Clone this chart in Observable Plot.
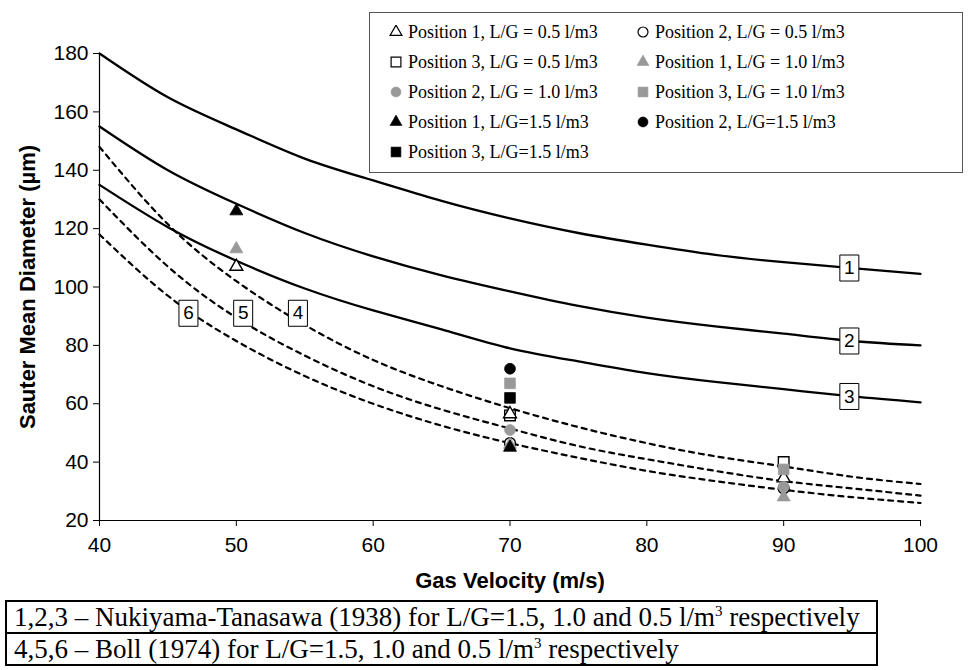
<!DOCTYPE html>
<html><head><meta charset="utf-8">
<script src="https://cdn.jsdelivr.net/npm/d3@7"></script>
<script src="https://cdn.jsdelivr.net/npm/@observablehq/plot@0.6"></script>
<style>
body{margin:0;background:#fff;}
#wrap{position:relative;width:968px;height:670px;overflow:hidden;}
#legend{position:absolute;left:369px;top:12px;width:594px;height:161px;border:1px solid #555;box-sizing:border-box;background:#fff;
 font-family:"Liberation Serif","Times New Roman",serif;font-size:18px;color:#000;}
.li{position:absolute;height:20px;line-height:20px;white-space:nowrap;display:flex;align-items:center;}
.li svg{margin-right:5px;}
#note{position:absolute;left:5px;top:600px;width:873px;border-collapse:collapse;
 font-family:"Liberation Serif","Times New Roman",serif;font-size:27px;color:#000;}
#note td{border:2px solid #000;padding:0 0 0 7px;height:30px;line-height:28px;white-space:nowrap;}
#note sup{font-size:15px;line-height:0;}
g[aria-label="x-axis tick label"] text, g[aria-label="y-axis tick label"] text{font-size:21px;}
g[aria-label="x-axis label"] text, g[aria-label="y-axis label"] text{font-weight:bold;font-size:22px;}
</style></head>
<body><div id="wrap"><div id="chart"></div><div id="legend"></div>
<table id="note">
<tr><td>1,2,3 – Nukiyama-Tanasawa (1938) for L/G=1.5, 1.0 and 0.5 l/m<sup>3</sup> respectively</td></tr>
<tr><td>4,5,6 – Boll (1974) for L/G=1.5, 1.0 and 0.5 l/m<sup>3</sup> respectively</td></tr>
</table></div>
<script>
// ---- data ----
const velocity = [40,45,50,55,60,65,70,75,80,85,90,95,100];
const nt15   = [180,165,154,144,136.5,129.5,123.5,118.5,114.5,111,108.5,106.5,104.5];
const nt10   = [155,140,128.5,118.5,110.5,104,98.5,93.5,89.5,86.5,84,81.5,80];
const nt05   = [135,120.5,109,99.5,92,85.5,79,74.5,70.5,67.5,65,62.5,60.5];
const boll15 = [148,121.5,102,87,75,66,58.5,52,46.5,42,38.5,35,32.5];
const boll10 = [130,107,89.5,76.5,66,58,51.5,45.5,41,37,33.5,31,28.5];
const boll05 = [118,97,81.5,69.5,60,52.5,46.5,41.5,37,33.5,30.5,28,26];

const curveLabels = ["1","2","3","4","5","6"];
const curveLabelV = [94.8,94.8,94.8,54.5,50.5,46.5];
const curveLabelD = [106.5,81.5,62.5,91,91,91];

const seriesNames = [
 "Position 1, L/G = 0.5 l/m3","Position 2, L/G = 0.5 l/m3",
 "Position 3, L/G = 0.5 l/m3","Position 1, L/G = 1.0 l/m3",
 "Position 2, L/G = 1.0 l/m3","Position 3, L/G = 1.0 l/m3",
 "Position 1, L/G=1.5 l/m3","Position 2, L/G=1.5 l/m3",
 "Position 3, L/G=1.5 l/m3"];
const p1_05_v = [50,70,90], p1_05_d = [107,56.5,34.5];
const p2_05_v = [70,90],    p2_05_d = [46.5,31];
const p3_05_v = [70,90],    p3_05_d = [56,40];
const p1_10_v = [50,70,90], p1_10_d = [113,46,28];
const p2_10_v = [70,90],    p2_10_d = [51,31.5];
const p3_10_v = [70,90],    p3_10_d = [67,37.5];
const p1_15_v = [50,70],    p1_15_d = [126,45];
const p2_15_v = [70],       p2_15_d = [72];
const p3_15_v = [70],       p3_15_d = [62];
const xTicks = [40,50,60,70,80,90,100];
const yTicks = [20,40,60,80,100,120,140,160,180];

// ---- build tables ----
const curveTable = (vals, id) => velocity.map((v,i)=>({v, d: vals[i], id}));
const solid = [...curveTable(nt15,"1"),...curveTable(nt10,"2"),...curveTable(nt05,"3")];
const dashed = [...curveTable(boll15,"4"),...curveTable(boll10,"5"),...curveTable(boll05,"6")];
const labels = curveLabels.map((t,i)=>({t, v: curveLabelV[i], d: curveLabelD[i]}));
const pts = (vs, ds, s) => vs.map((v,i)=>({v, d: ds[i], s}));
const pointData = [
 pts(p1_05_v,p1_05_d,seriesNames[0]), pts(p2_05_v,p2_05_d,seriesNames[1]),
 pts(p3_05_v,p3_05_d,seriesNames[2]), pts(p1_10_v,p1_10_d,seriesNames[3]),
 pts(p2_10_v,p2_10_d,seriesNames[4]), pts(p3_10_v,p3_10_d,seriesNames[5]),
 pts(p1_15_v,p1_15_d,seriesNames[6]), pts(p2_15_v,p2_15_d,seriesNames[7]),
 pts(p3_15_v,p3_15_d,seriesNames[8])];

// ---- styles ----
const GRAY = "#999999";
const markerStyle = [
 {symbol:"triangle", fill:"white", r:4.8},
 {symbol:"circle",   fill:"white", r:5.4},
 {symbol:"square",   fill:"white", r:6},
 {symbol:"triangle", fill:GRAY, r:4.8},
 {symbol:"circle",   fill:GRAY, r:5.4},
 {symbol:"square",   fill:GRAY, r:6},
 {symbol:"triangle", fill:"black", r:4.8},
 {symbol:"circle",   fill:"black", r:5.4},
 {symbol:"square",   fill:"black", r:6}];
const drawOrder = [2,1,0,3,4,5,6,7,8];

const rectSymbol = {draw(ctx){const w=19,h=26;ctx.moveTo(-w/2,-h/2);ctx.lineTo(w/2,-h/2);ctx.lineTo(w/2,h/2);ctx.lineTo(-w/2,h/2);ctx.closePath();}};

const dotMarks = drawOrder.map(i => {
  const st = markerStyle[i];
  return Plot.dot(pointData[i], {x:"v", y:"d", symbol:()=>st.symbol, r:st.r,
    fill: st.fill, stroke: st.fill==="white" ? "black" : st.fill, strokeWidth: st.fill==="white"?1.4:0.8});
});

const chart = Plot.plot({
  width:968, height:595,
  marginLeft:99, marginRight:48, marginTop:53, marginBottom:75,
  x:{domain:[40,100]},
  y:{domain:[20,180]},
  symbol:{type:"identity"},
  style:{fontFamily:"'Liberation Sans', Arial, sans-serif", fontSize:"20px", color:"#000", background:"#fff"},
  marks:[
    Plot.axisX({ticks:xTicks, tickSize:6, tickPadding:11, label:"Gas Velocity (m/s)", labelAnchor:"center", labelOffset:67, labelArrow:"none"}),
    Plot.axisY({ticks:yTicks, tickSize:6, tickPadding:5, label:"Sauter Mean Diameter (µm)", labelAnchor:"center", labelOffset:80, labelArrow:"none"}),
    Plot.ruleX([40], {stroke:"#000", strokeWidth:1.2}),
    Plot.ruleY([20], {stroke:"#000", strokeWidth:1.2}),
    Plot.line(solid, {x:"v", y:"d", z:"id", stroke:"black", strokeWidth:2.3, curve:"natural"}),
    Plot.line(dashed, {x:"v", y:"d", z:"id", stroke:"black", strokeWidth:2.2, strokeDasharray:"5,5", curve:"natural"}),
    ...dotMarks,
    Plot.dot(labels, {x:"v", y:"d", symbol:()=>rectSymbol, r:10, fill:"white", stroke:"black", strokeWidth:1}),
    Plot.text(labels, {x:"v", y:"d", text:"t", fontSize:19, fill:"black"})
  ]
});
document.getElementById("chart").appendChild(chart);

// ---- legend ----
const legend = document.getElementById("legend");
seriesNames.forEach((name,i)=>{
  const col = i % 2, row = Math.floor(i/2);
  const st = markerStyle[i];
  const div = document.createElement("div");
  div.className = "li";
  div.style.left = (col===0 ? 19 : 266) + "px";
  div.style.top = (9 + row*30) + "px";
  const sym = {triangle:d3.symbolTriangle, circle:d3.symbolCircle, square:d3.symbolSquare}[st.symbol];
  const size = Math.PI*st.r*st.r*0.85;
  const path = d3.symbol(sym, size)();
  div.innerHTML = `<svg width="14" height="14" viewBox="-7 -7 14 14"><path d="${path}" fill="${st.fill}" stroke="${st.fill==='white'?'black':st.fill}" stroke-width="${st.fill==='white'?1.2:0.6}"/></svg><span>${name}</span>`;
  legend.appendChild(div);
});
</script></body></html>
